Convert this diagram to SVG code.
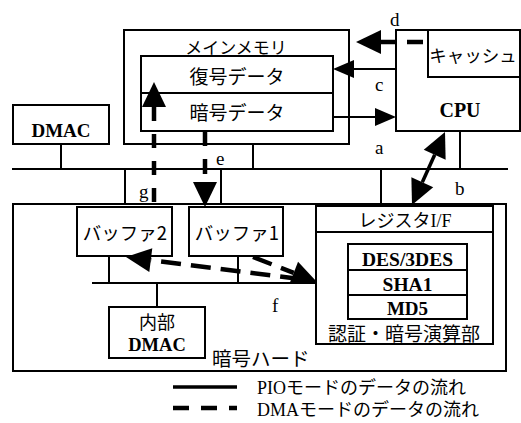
<svg xmlns="http://www.w3.org/2000/svg" width="521" height="423" viewBox="0 0 521 423">
<style>
.box{fill:#fff;stroke:#000;stroke-width:2}
.ln{fill:none;stroke:#000;stroke-width:2}
.dash{fill:none;stroke:#000;stroke-width:4.5}
.jp{font-family:"Noto Sans CJK JP","Noto Sans",sans-serif;fill:#000}
.lat{font-family:"Liberation Serif",serif;fill:#000}
.bold{font-family:"Liberation Serif",serif;font-weight:bold;fill:#000}
.lbl{font-family:"Liberation Serif",serif;font-size:19px;fill:#000}
</style>
<defs>
<marker id="as" markerUnits="userSpaceOnUse" viewBox="0 0 21 18" markerWidth="21" markerHeight="18" refX="0" refY="9" orient="auto" overflow="visible"><path d="M0,0 L21,9 L0,18 z" fill="#000"/></marker>
<marker id="ah" markerUnits="userSpaceOnUse" viewBox="0 0 25 24" markerWidth="25" markerHeight="24" refX="0" refY="12" orient="auto" overflow="visible"><path d="M0,0 L25,12 L0,24 z" fill="#000"/></marker>
<marker id="ah2" markerUnits="userSpaceOnUse" viewBox="0 0 25 24" markerWidth="25" markerHeight="24" refX="0" refY="12" orient="auto-start-reverse" overflow="visible"><path d="M0,0 L25,12 L0,24 z" fill="#000"/></marker>
</defs>
<rect width="521" height="423" fill="#fff"/>

<g id="hardware">
<rect class="box" x="13" y="204" width="493" height="167"/>
<text class="jp" x="212" y="366" font-size="19.5">暗号ハード</text>
</g>

<g id="mainmemory">
<rect class="box" x="124" y="30" width="225" height="114"/>
<text class="jp" x="236" y="54" font-size="17" text-anchor="middle">メインメモリ</text>
</g>
<g id="decrypted">
<rect class="box" x="141" y="56" width="192" height="37"/>
<text class="jp" x="237" y="84" font-size="19" text-anchor="middle">復号データ</text>
</g>
<g id="encrypted">
<rect class="box" x="141" y="93" width="192" height="38"/>
<text class="jp" x="237" y="120" font-size="19" text-anchor="middle">暗号データ</text>
</g>

<g id="dmac">
<rect class="box" x="13" y="105" width="96" height="39"/>
<text class="bold" x="61" y="137" font-size="19" text-anchor="middle">DMAC</text>
</g>

<g id="cpu">
<rect class="box" x="396" y="30" width="124" height="101"/>
<text class="bold" x="460" y="117" font-size="20" text-anchor="middle">CPU</text>
</g>
<g id="cache">
<rect class="box" x="428" y="30" width="92" height="47"/>
<text class="jp" x="473" y="62" font-size="17.5" text-anchor="middle">キャッシュ</text>
</g>

<g id="buffer2">
<rect class="box" x="77" y="207" width="95" height="49"/>
<text class="jp" x="125" y="240" font-size="18.5" text-anchor="middle">バッファ2</text>
</g>
<g id="buffer1">
<rect class="box" x="189" y="207" width="94" height="49"/>
<text class="jp" x="237" y="240" font-size="18.5" text-anchor="middle">バッファ1</text>
</g>

<g id="internal-dmac">
<rect class="box" x="109" y="307" width="96" height="51"/>
<text class="jp" x="157" y="329" font-size="18" text-anchor="middle">内部</text>
<text class="bold" x="157" y="351" font-size="18.5" text-anchor="middle">DMAC</text>
</g>

<g id="crypto-unit">
<rect class="box" x="316" y="206" width="177" height="138"/>
<line class="ln" x1="316" y1="232" x2="493" y2="232"/>
<text x="405" y="227" font-size="18" text-anchor="middle"><tspan class="jp">レジスタ</tspan><tspan class="lat">I/F</tspan></text>
<text class="jp" x="404" y="341" font-size="19" text-anchor="middle">認証・暗号演算部</text>
</g>
<g id="des">
<rect class="box" x="348" y="244" width="119" height="26"/>
<text class="bold" x="407.5" y="266" font-size="19.5" text-anchor="middle">DES/3DES</text>
</g>
<g id="sha1">
<rect class="box" x="348" y="270" width="119" height="25"/>
<text class="bold" x="407.5" y="291" font-size="19.5" text-anchor="middle">SHA1</text>
</g>
<g id="md5">
<rect class="box" x="348" y="295" width="119" height="24"/>
<text class="bold" x="407.5" y="315" font-size="19" text-anchor="middle">MD5</text>
</g>

<g id="connectors">
<line class="ln" x1="12" y1="169" x2="508" y2="169"/>
<line class="ln" x1="61" y1="144" x2="61" y2="169"/>
<line class="ln" x1="253" y1="144" x2="253" y2="169"/>
<line class="ln" x1="460" y1="131" x2="460" y2="169"/>
<line class="ln" x1="125" y1="169" x2="125" y2="204"/>
<line class="ln" x1="221" y1="169" x2="221" y2="204"/>
<line class="ln" x1="381" y1="169" x2="381" y2="206"/>
<line class="ln" x1="92" y1="283" x2="316" y2="283"/>
<line class="ln" x1="109" y1="256" x2="109" y2="283"/>
<line class="ln" x1="238" y1="256" x2="238" y2="283"/>
<line class="ln" x1="157" y1="283" x2="157" y2="307"/>
<line class="ln" x1="396" y1="69" x2="354" y2="69" marker-end="url(#as)"/>
<line class="ln" x1="333" y1="117" x2="375" y2="117" marker-end="url(#as)"/>
<line x1="422.3" y1="182.2" x2="434.7" y2="154.8" stroke="#000" stroke-width="3.5" marker-start="url(#ah2)" marker-end="url(#ah2)"/>
<line class="dash" x1="423" y1="42" x2="381" y2="42" stroke-dasharray="16 12" marker-end="url(#ah)"/>
<line class="dash" x1="154" y1="202" x2="154" y2="107" stroke-dasharray="14 13" marker-end="url(#ah)"/>
<line class="dash" x1="205" y1="131" x2="205" y2="182" stroke-dasharray="15 13" marker-end="url(#ah)"/>
<line class="dash" x1="300" y1="279" x2="150.8" y2="260.1" stroke-dasharray="20 10" marker-end="url(#ah)"/>
<line class="dash" x1="253" y1="257" x2="293.7" y2="272.9" stroke-dasharray="20 10" marker-end="url(#ah)"/>
</g>

<g id="labels">
<text class="lbl" x="390" y="26">d</text>
<text class="lbl" x="375" y="91">c</text>
<text class="lbl" x="375" y="154">a</text>
<text class="lbl" x="455" y="195">b</text>
<text class="lbl" x="216" y="165">e</text>
<text class="lbl" x="139" y="198">g</text>
<text class="lbl" x="272" y="312">f</text>
</g>

<g id="legend">
<line x1="173" y1="387" x2="237" y2="387" stroke="#000" stroke-width="3.5"/>
<line x1="173" y1="408" x2="237" y2="408" stroke="#000" stroke-width="4.5" stroke-dasharray="16 12"/>
<text x="257" y="394" font-size="18"><tspan class="lat">PIO</tspan><tspan class="jp">モードのデータの流れ</tspan></text>
<text x="257" y="416" font-size="18"><tspan class="lat">DMA</tspan><tspan class="jp">モードのデータの流れ</tspan></text>
</g>
</svg>
